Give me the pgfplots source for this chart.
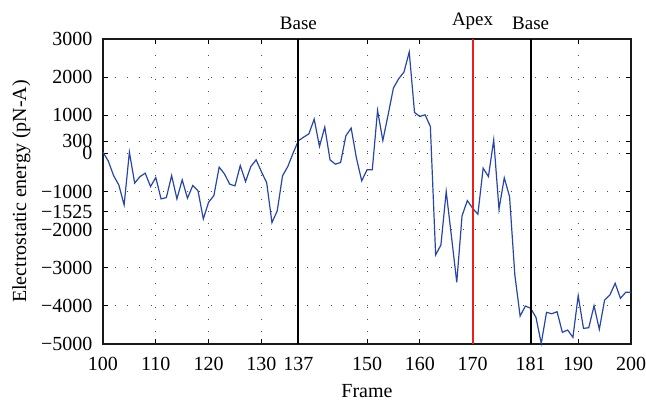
\documentclass[border=0pt]{standalone}
\usepackage{pgfplots}
\pgfplotsset{compat=1.18}
\usepackage{fontspec}
\setmainfont{Liberation Serif}
\definecolor{lineblue}{RGB}{40,70,170}
\definecolor{apexred}{RGB}{235,30,30}
\begin{document}
\begin{tikzpicture}[x=1pt,y=1pt]
\begin{axis}[
  at={(0,0)}, anchor=south west,
  scale only axis, width=528pt, height=305pt,
  xmin=100, xmax=200, ymin=-5000, ymax=3000,
  xtick={100,110,120,130,137,150,160,170,181,190,200},
  xticklabels={100,110,120,130,137,150,160,170,181,190,200},
  ytick={-5000,-4000,-3000,-2000,-1525,-1000,0,300,1000,2000,3000},
  yticklabels={−5000,−4000,−3000,−2000,−1525,−1000,\raisebox{-4.5pt}{0},\raisebox{2pt}{300},1000,2000,3000},
  tick align=inside, tick pos=both,
  major tick length=5pt,
  every tick/.style={black, line width=0.9pt},
  axis line style={draw=black!90, line width=1.5pt},
  grid=major,
  major grid style={draw=black!70, line width=0.9pt, dash pattern=on 1pt off 11pt},
  tick label style={font=\fontsize{20}{22}\selectfont, inner ysep=0pt},
  xticklabel style={yshift=-13pt},
  yticklabel style={xshift=-7pt},
  label style={font=\fontsize{20}{22}\selectfont},
  xlabel={Frame},
  ylabel={Electrostatic energy (pN-A)},
  xlabel style={yshift=-10pt},
  ylabel style={yshift=4pt},
  clip=false,
]
\addplot[draw=lineblue, line width=1.2pt] coordinates {
(100,30) (101,-200) (102,-580) (103,-830) (104,-1350) (105,30) (106,-780) (107,-610) (108,-520) (109,-870)
(110,-634) (111,-1194) (112,-1160) (113,-582) (114,-1194) (115,-695) (116,-1176) (117,-844) (118,-984) (119,-1719)
(120,-1281) (121,-1107) (122,-361) (123,-537) (124,-808) (125,-852) (126,-319) (127,-740) (128,-345) (129,-170)
(130,-480) (131,-770) (132,-1816) (133,-1509) (134,-590) (135,-345) (136,6) (137,330) (138,426) (139,513)
(140,899) (141,180) (142,689) (143,-170) (144,-283) (145,-240) (146,461) (147,663) (148,-125) (149,-721)
(150,-432) (151,-432) (152,1125) (153,337) (154,1012) (155,1713) (156,1957) (157,2133) (158,2658) (159,1073)
(160,968) (161,1012) (162,705) (163,-2664) (164,-2402) (165,-1001) (166,-2183) (167,-3382) (168,-1640) (169,-1238)
(170,-1439) (171,-1596) (172,-388) (173,-608) (174,356) (175,-1465) (176,-642) (177,-1133) (178,-3190) (179,-4267)
(180,-4004) (181,-4064) (182,-4300) (183,-4983) (184,-4170) (185,-4206) (186,-4153) (187,-4694) (188,-4634) (189,-4825)
(190,-3733) (191,-4590) (192,-4573) (193,-3996) (194,-4615) (195,-3846) (196,-3715) (197,-3408) (198,-3802) (199,-3644)
(200,-3644)
};
\addplot[draw=black, line width=1.9pt] coordinates {(137,-5000) (137,3000)};
\addplot[draw=apexred, line width=1.9pt] coordinates {(170,-5000) (170,3000)};
\addplot[draw=black, line width=1.9pt] coordinates {(181,-5000) (181,3000)};
\node[anchor=south, font=\fontsize{19}{21}\selectfont, inner sep=0pt, yshift=9pt] at (axis cs:137,3000) {Base};
\node[anchor=south, font=\fontsize{19}{21}\selectfont, inner sep=0pt, yshift=9pt] at (axis cs:170,3000) {Apex};
\node[anchor=south, font=\fontsize{19}{21}\selectfont, inner sep=0pt, yshift=9pt] at (axis cs:181,3000) {Base};
\end{axis}
\pgfresetboundingbox
\path (-103,-57) rectangle (543,344);
\end{tikzpicture}
\end{document}
